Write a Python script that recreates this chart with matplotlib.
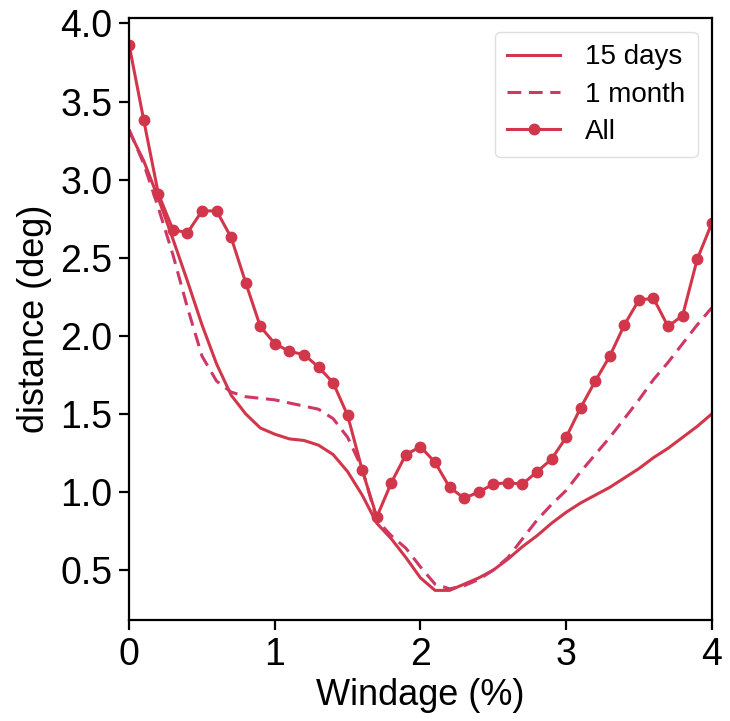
import matplotlib
matplotlib.use("Agg")
import matplotlib.pyplot as plt
import numpy as np

plt.rcParams['font.family'] = ['Liberation Sans', 'DejaVu Sans']

x = [round(0.1 * i, 1) for i in range(41)]

days15 = [3.31, 3.12, 2.88, 2.62, 2.35, 2.07, 1.82, 1.62, 1.50, 1.41,
          1.37, 1.34, 1.33, 1.30, 1.24, 1.13, 0.98, 0.80, 0.70, 0.58,
          0.45, 0.37, 0.37, 0.41, 0.45, 0.50, 0.57, 0.65, 0.72, 0.80,
          0.87, 0.93, 0.98, 1.03, 1.09, 1.15, 1.22, 1.28, 1.35, 1.42,
          1.50]

month1 = [3.32, 3.10, 2.82, 2.52, 2.18, 1.87, 1.71, 1.64, 1.61, 1.60,
          1.59, 1.57, 1.55, 1.53, 1.47, 1.35, 1.15, 0.82, 0.72, 0.64,
          0.52, 0.41, 0.38, 0.40, 0.44, 0.50, 0.58, 0.70, 0.82, 0.92,
          1.01, 1.13, 1.24, 1.35, 1.47, 1.59, 1.72, 1.83, 1.95, 2.07,
          2.18]

all_vals = [3.86, 3.38, 2.91, 2.68, 2.66, 2.80, 2.80, 2.63, 2.34, 2.06,
            1.95, 1.90, 1.88, 1.80, 1.70, 1.49, 1.14, 0.84, 1.06, 1.24,
            1.29, 1.19, 1.03, 0.96, 1.00, 1.05, 1.06, 1.05, 1.13, 1.21,
            1.35, 1.54, 1.71, 1.87, 2.07, 2.23, 2.24, 2.06, 2.13, 2.49,
            2.72]

labels = ['15 days', '1 month', 'All']

fig = plt.figure(figsize=(7.30, 7.21), dpi=100)
ax = fig.add_axes([0.177, 0.140, 0.798, 0.835])

c_solid = '#d2364b'
c_dash = '#cf3863'

ax.plot(x, days15, color=c_solid, lw=2.2, label=labels[0])
ax.plot(x, month1, color=c_dash, lw=2.2, ls=(0, (4.5, 2.5)), label=labels[1])
ax.plot(x, all_vals, color=c_solid, lw=2.2, marker='o', markersize=7.5, label=labels[2])

ax.set_xlim(0, 4)
ax.set_ylim(0.18, 4.035)
ax.set_xticks([0, 1, 2, 3, 4])
ax.set_yticks([0.5, 1.0, 1.5, 2.0, 2.5, 3.0, 3.5, 4.0])
ax.set_yticklabels(['0.5', '1.0', '1.5', '2.0', '2.5', '3.0', '3.5', '4.0'])
ax.tick_params(axis='both', labelsize=27, length=7, width=1.6, direction='out', pad=5)
for s in ax.spines.values():
    s.set_linewidth(1.6)

ax.set_xlabel('Windage (%)', fontsize=26, labelpad=4)
ax.set_ylabel('distance (deg)', fontsize=26, labelpad=6)

leg = ax.legend(loc='upper right', fontsize=20, frameon=True, fancybox=True,
                handlelength=1.9, borderpad=0.45, labelspacing=0.4,
                handletextpad=0.9, borderaxespad=0.5)
leg.get_frame().set_edgecolor('#d8d8d8')
leg.get_frame().set_linewidth(1.0)

fig.savefig('out.png', dpi=100)
